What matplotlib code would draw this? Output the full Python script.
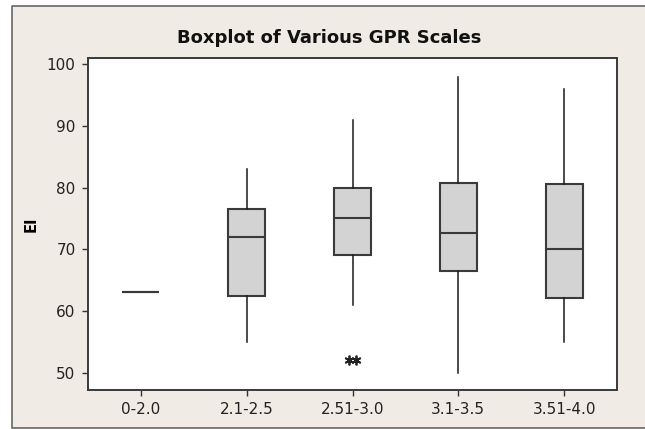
import numpy as np
import matplotlib
matplotlib.use("Agg")
import matplotlib.pyplot as plt
from matplotlib.patches import Rectangle

# GPR scale groups and the five-number summaries
groups = ["0-2.0", "2.1-2.5", "2.51-3.0", "3.1-3.5", "3.51-4.0"]
whisker_low = [63.0, 55.0, 61.0, 50.0, 55.0]
q1 = [63.0, 62.5, 69.0, 66.5, 62.1]
median = [63.0, 72.0, 75.0, 72.6, 70.0]
q3 = [63.0, 76.5, 80.0, 80.7, 80.6]
whisker_high = [63.0, 83.0, 91.0, 98.0, 96.0]
outliers = [[], [], [52.0, 52.0], [], []]

yticks = [50, 60, 70, 80, 90, 100]

plt.rcParams['font.family'] = ['DejaVu Sans Condensed', 'DejaVu Sans']

W, H = 645, 429
fig = plt.figure(figsize=(W / 100, H / 100), dpi=100)
fig.patch.set_facecolor("white")

# beige Minitab panel behind everything, border on top/left/bottom
bg = fig.add_axes([0, 0, 1, 1], zorder=-1)
bg.set_xlim(0, W)
bg.set_ylim(H, 0)
bg.axis("off")
bg.add_patch(Rectangle((12, 5.7), W, 422, facecolor="#F0EBE4", edgecolor="none"))
bg.plot([W, 12, 12, W], [5.7, 5.7, 427.7, 427.7], color="#666666", lw=1.2)

ax = fig.add_axes([88 / W, 1 - 390 / H, (617 - 88) / W, (390 - 58) / H])
ax.set_facecolor("white")

stats = []
for i, g in enumerate(groups):
    stats.append(dict(label=g, whislo=whisker_low[i], q1=q1[i], med=median[i],
                      q3=q3[i], whishi=whisker_high[i], fliers=[]))

pos = np.arange(1, len(groups) + 1)
ax.bxp(stats, positions=pos, widths=0.35, patch_artist=True, showcaps=False,
       showfliers=False,
       boxprops=dict(facecolor="#D3D3D3", edgecolor="#3A3A3A", linewidth=1.5),
       medianprops=dict(color="#3A3A3A", linewidth=1.5),
       whiskerprops=dict(color="#1A1A1A", linewidth=1.1))

# tied outliers drawn side by side like Minitab
for i, vals in enumerate(outliers):
    n = len(vals)
    if n:
        offs = (np.arange(n) - (n - 1) / 2) * 0.075
        ax.plot(pos[i] + offs, vals, linestyle="none", marker=(6, 2, 0),
                markersize=7, color="#222222", markeredgewidth=1.3)

ax.set_xlim(0.5, 5.5)
ax.set_ylim(47.2, 101.0)
ax.set_yticks(yticks)
ax.set_xticks(pos)
ax.set_xticklabels(groups)
ax.tick_params(direction="out", length=4, width=1, color="#333333",
               labelcolor="#222222", labelsize=11, pad=5)
for s in ax.spines.values():
    s.set_color("#3A3A3A")
    s.set_linewidth(1.4)

ax.set_ylabel("EI", fontsize=10.5, fontweight="bold")
ax.yaxis.set_label_coords((39 - 88) / (617 - 88), 0.5)
fig.text(0.51, 1 - 38 / H, "Boxplot of Various GPR Scales", ha="center",
         va="center", fontsize=13, fontweight="bold", color="#111111")

fig.savefig("out.png", dpi=100)
